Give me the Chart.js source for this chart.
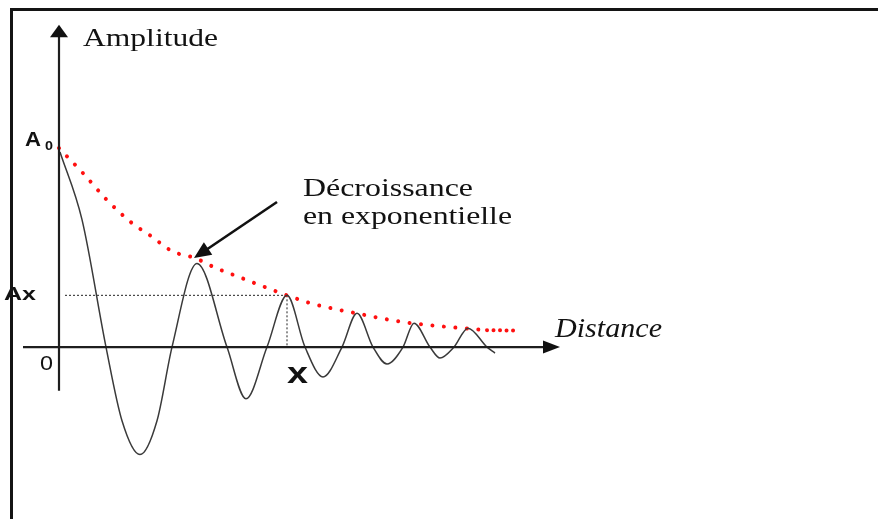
<!DOCTYPE html>
<html>
<head>
<meta charset="utf-8">
<script src="https://cdn.jsdelivr.net/npm/chart.js@4/dist/chart.umd.min.js"></script>
<style>
  html, body { margin: 0; padding: 0; background: #fff; overflow: hidden; }
  #wrap { width: 878px; height: 519px; position: relative; }
</style>
</head>
<body>
<div id="wrap"><canvas id="c" width="878" height="519"></canvas></div>
<script>
// Damped wave: start, zero crossings and extrema (distance, amplitude with A0 = 1)
const waveDist = [0.02, 0.46, 0.94, 1.26, 1.62, 1.96, 2.26, 2.76, 3.36, 3.74, 4.16, 4.56, 4.92, 5.28, 5.66, 5.96, 6.28, 6.56, 6.88, 7.10, 7.42, 7.62, 7.90, 8.18, 8.56, 8.72];
const waveAmp  = [0.98, 0.64, 0, -0.37, -0.54, -0.37, 0, 0.42, 0, -0.26, 0, 0.26, 0, -0.15, 0, 0.17, 0, -0.085, 0, 0.12, 0, -0.055, 0, 0.095, 0, -0.03];

// Exponential envelope (red dotted)
const envDist = [0, 0.48, 0.94, 1.46, 1.84, 2.26, 2.72, 3.14, 3.60, 4.06, 4.56, 5.02, 5.52, 6.02, 6.52, 7.02, 7.56, 8.06, 8.56];
const envAmp  = [1.00, 0.874, 0.744, 0.623, 0.558, 0.482, 0.447, 0.397, 0.352, 0.307, 0.26, 0.221, 0.191, 0.166, 0.141, 0.121, 0.106, 0.095, 0.085];
const tailDist = [8.56, 9.10];
const tailAmp  = [0.085, 0.083];

// Marked values
const A0 = 1.0;
const AX = 0.26;
const X_POS = 4.56;
const REF_START = 0.12;

// Axis extents and annotation arrow
const xAxisFrom = -0.72, xAxisTo = 10.02;
const yAxisFrom = -0.22, yAxisTo = 1.62;
const arrowFrom = [4.36, 0.729];
const arrowTo   = [2.70, 0.447];

const pts = (xs, ys) => xs.map((x, i) => ({ x, y: ys[i] }));

function stretchText(ctx, str, left, right, baseline, font, color) {
  ctx.save();
  ctx.font = font;
  ctx.fillStyle = color || '#121212';
  ctx.textAlign = 'left';
  ctx.textBaseline = 'alphabetic';
  const w = ctx.measureText(str).width;
  ctx.translate(left, baseline);
  ctx.scale((right - left) / w, 1);
  ctx.fillText(str, 0, 0);
  ctx.restore();
}

function tri(ctx, tipX, tipY, ang, len, half) {
  const bx = tipX - Math.cos(ang) * len, by = tipY - Math.sin(ang) * len;
  const px = -Math.sin(ang) * half, py = Math.cos(ang) * half;
  ctx.beginPath();
  ctx.moveTo(tipX, tipY);
  ctx.lineTo(bx + px, by + py);
  ctx.lineTo(bx - px, by - py);
  ctx.closePath();
  ctx.fill();
}

const decor = {
  id: 'decor',
  afterDatasetsDraw(chart) {
    const ctx = chart.ctx;
    const xs = chart.scales.x, ys = chart.scales.y;
    const X = v => xs.getPixelForValue(v), Y = v => ys.getPixelForValue(v);

    ctx.save();
    ctx.strokeStyle = '#1e1e1e';
    ctx.fillStyle = '#111';
    // vertical axis
    ctx.lineWidth = 2.2;
    ctx.beginPath();
    ctx.moveTo(X(0), Y(yAxisFrom));
    ctx.lineTo(X(0), Y(yAxisTo) + 10);
    ctx.stroke();
    tri(ctx, X(0), Y(yAxisTo), -Math.PI / 2, 12.5, 9);
    // horizontal axis
    ctx.beginPath();
    ctx.moveTo(X(xAxisFrom), Y(0));
    ctx.lineTo(X(xAxisTo) - 12, Y(0));
    ctx.stroke();
    tri(ctx, X(xAxisTo), Y(0), 0, 17, 6.5);

    // annotation arrow
    const ax0 = X(arrowFrom[0]), ay0 = Y(arrowFrom[1]);
    const ax1 = X(arrowTo[0]), ay1 = Y(arrowTo[1]);
    const ang = Math.atan2(ay1 - ay0, ax1 - ax0);
    ctx.lineWidth = 2.6;
    ctx.strokeStyle = '#111';
    ctx.beginPath();
    ctx.moveTo(ax0, ay0);
    ctx.lineTo(ax1 - Math.cos(ang) * 10, ay1 - Math.sin(ang) * 10);
    ctx.stroke();
    tri(ctx, ax1, ay1, ang, 17, 7.5);
    ctx.restore();

    // texts
    stretchText(ctx, 'Amplitude', 83, 218, 46, "26px 'Liberation Serif'");
    stretchText(ctx, 'A', 25, 41, Y(A0) - 2, "bold 21px 'Liberation Sans'");
    stretchText(ctx, '0', 45, 53, Y(A0) + 2, "bold 13px 'Liberation Sans'");
    stretchText(ctx, 'Ax', 4, 36, Y(AX) + 5, "bold 18px 'Liberation Sans'");
    stretchText(ctx, '0', 40, 53, Y(0) + 23, "20px 'Liberation Sans'");
    stretchText(ctx, 'x', X(X_POS), X(X_POS) + 21, Y(0) + 36, "bold 30px 'Liberation Sans'");
    stretchText(ctx, 'Décroissance', 303, 473, 196, "26px 'Liberation Serif'");
    stretchText(ctx, 'en exponentielle', 303, 512, 224, "26px 'Liberation Serif'");
    stretchText(ctx, 'Distance', 555, 662, 337, "italic 27px 'Liberation Serif'");

    // frame
    ctx.save();
    ctx.strokeStyle = '#141414';
    ctx.lineWidth = 3;
    ctx.beginPath();
    ctx.moveTo(11.5, 519);
    ctx.lineTo(11.5, 9.5);
    ctx.lineTo(878, 9.5);
    ctx.stroke();
    ctx.restore();
  }
};

new Chart(document.getElementById('c'), {
  type: 'line',
  data: {
    datasets: [
      {
        label: 'onde',
        data: pts(waveDist, waveAmp),
        borderColor: '#3a3a3a',
        borderWidth: 1.5,
        pointRadius: 0,
        cubicInterpolationMode: 'monotone',
        fill: false
      },
      {
        label: 'enveloppe',
        data: pts(envDist, envAmp),
        borderColor: '#ff1010',
        borderWidth: 4,
        borderDash: [0.01, 11.5],
        borderCapStyle: 'round',
        pointRadius: 0,
        cubicInterpolationMode: 'monotone',
        fill: false
      },
      {
        label: 'fin enveloppe',
        data: pts(tailDist, tailAmp),
        borderColor: '#ff1010',
        borderWidth: 4,
        borderDash: [0.01, 6.5],
        borderCapStyle: 'round',
        pointRadius: 0,
        fill: false
      },
      {
        label: 'Ax',
        data: [{ x: REF_START, y: AX }, { x: X_POS, y: AX }],
        borderColor: '#222',
        borderWidth: 1,
        borderDash: [2, 2],
        pointRadius: 0,
        fill: false
      },
      {
        label: 'x',
        data: [{ x: X_POS, y: AX }, { x: X_POS, y: 0 }],
        borderColor: '#222',
        borderWidth: 1,
        borderDash: [2, 2],
        pointRadius: 0,
        fill: false
      }
    ]
  },
  options: {
    responsive: false,
    animation: false,
    events: [],
    devicePixelRatio: 1,
    layout: { padding: 0 },
    plugins: { legend: { display: false }, tooltip: { enabled: false }, title: { display: false } },
    scales: {
      x: { type: 'linear', min: -1.18, max: 16.38, display: false },
      y: { type: 'linear', min: -0.864, max: 1.744, display: false }
    }
  },
  plugins: [decor]
});
</script>
</body>
</html>
